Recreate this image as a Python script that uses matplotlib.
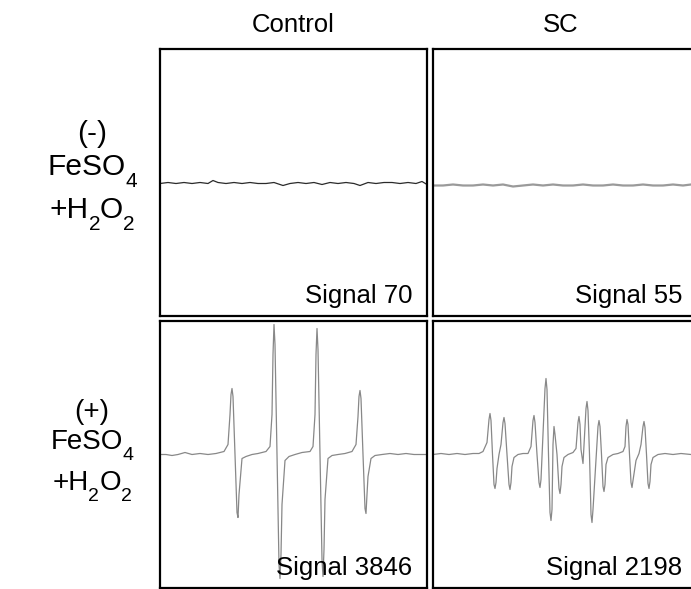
import numpy as np
import matplotlib.pyplot as plt

plt.rcParams['font.family'] = ['Liberation Sans', 'DejaVu Sans']

col_titles = ['Control', 'SC']
row_signs = ['(-)', '(+)']
signals = [[70, 55], [3846, 2198]]

# field position (a.u. across the panel) and EPR amplitude (a.u., 0 = baseline)
ctrl_neg_x = [0, 8, 16, 24, 32, 40, 48, 53, 58, 66, 74, 82, 90, 98, 106, 114, 123, 130,
              138, 146, 154, 162, 170, 178, 186, 194, 200, 208, 216, 224, 232, 240, 248,
              256, 262, 267]
ctrl_neg_y = [-1, 0, -1, 0, -1, 0, -1, 2, 0, -1, 0, -1, 0, -1, -1, 0, -3, -1, 0, -1,
              0, -2, 0, -1, 0, -1, -3, 0, -1, 0, 0, -1, 0, -1, 1, -2]

sc_neg_x = [0, 10, 20, 30, 40, 50, 60, 70, 80, 90, 100, 110, 120, 130, 140, 150, 160,
            170, 180, 190, 200, 210, 220, 230, 240, 250, 258]
sc_neg_y = [-3, -3, -2, -3, -3, -2, -3, -2, -4, -3, -2, -3, -2, -3, -3, -2, -3, -3,
            -2, -3, -3, -2, -3, -3, -2, -3, -2]

ctrl_pos_x = [0, 6, 12, 18, 25, 32, 40, 48, 56, 64, 68, 70, 71, 72, 73, 75, 77, 78, 79,
              82, 86, 92, 98, 106, 110, 112, 113, 114, 115, 117, 119, 120, 121, 122, 125,
              129, 135, 142, 150, 153, 155, 156, 157, 158, 160, 162, 163, 164, 165, 168,
              172, 178, 185, 192, 196, 198, 199, 200, 201, 203, 205, 206, 207, 208, 211,
              215, 222, 230, 238, 246, 254, 262, 267]
ctrl_pos_y = [0, 0, -1, 0, 2, 0, 1, 0, 1, 3, 10, 40, 60, 66, 58, 0, -58, -63, -40, -4,
              -2, 0, 1, 3, 8, 40, 100, 130, 110, 0, -110, -124, -100, -50, -6, -2, 0, 2,
              3, 8, 40, 100, 126, 105, 0, -105, -122, -95, -45, -4, -1, 0, 1, 3, 10, 38,
              58, 64, 56, 0, -54, -59, -40, -22, -4, -1, 0, 1, 0, 1, 0, 0, 0]

sc_pos_x = [0, 8, 16, 24, 32, 40, 46, 50, 54, 56, 57, 58, 59.5, 61, 62, 63, 64, 66, 68,
            70, 71, 72, 74, 76, 77, 78, 79, 81, 85, 90, 95, 98, 100, 101, 102, 104, 106,
            107, 108, 112, 113, 114, 115.5, 117, 118, 119, 120, 121, 122, 124, 126, 127,
            128, 129, 131, 135, 140, 143, 145, 146, 147, 148, 150, 153, 154, 155, 156.5,
            158, 159, 160, 165, 166, 167, 168.5, 170, 171, 172, 173, 175, 180, 185, 190,
            192, 193, 194, 195, 196.5, 198, 199, 200, 203, 206, 208, 210, 211, 212,
            213.5, 215, 216, 217, 218, 220, 225, 232, 240, 248, 258]
sc_pos_y = [0, 1, 0, 1, 0, 1, 1, 3, 12, 35, 41, 34, 0, -30, -34, -28, -14, 0, 10, 32,
            37, 31, 0, -30, -35, -28, -12, -3, 0, 1, 1, 8, 34, 39, 32, 0, -28, -33, -25,
            66, 76, 65, 0, -58, -66, -55, 10, 28, 20, 0, -34, -39, -30, -12, -3, 0, 2, 6,
            32, 38, 30, 5, -9, 46, 53, 44, 0, -60, -68, -55, 28, 34, 28, 0, -32, -37,
            -30, -10, -3, 0, 1, 3, 8, 28, 35, 30, 0, -28, -33, -26, -6, 1, 10, 28, 33,
            27, 0, -29, -34, -27, -10, -3, 0, 1, 0, 1, 0]

traces = [[(ctrl_neg_x, ctrl_neg_y), (sc_neg_x, sc_neg_y)],
          [(ctrl_pos_x, ctrl_pos_y), (sc_pos_x, sc_pos_y)]]
styles = [[dict(color='#2a2a2a', lw=0.9), dict(color='#9a9a9a', lw=1.6)],
          [dict(color='#888888', lw=0.9), dict(color='#888888', lw=0.9)]]

W, H = 691, 589
fig = plt.figure(figsize=(W / 100, H / 100), dpi=100)
renderer = fig.canvas.get_renderer()

lefts = [160, 433]
tops = [49, 321]
size = 267

for r in range(2):
    for c in range(2):
        ax = fig.add_axes([lefts[c] / W, 1 - (tops[r] + size) / H, size / W, size / H])
        x, y = traces[r][c]
        ax.plot(x, y, **styles[r][c])
        ax.set_xlim(0, size)
        ax.set_ylim(-size / 2, size / 2)
        ax.set_xticks([])
        ax.set_yticks([])
        for sp in ax.spines.values():
            sp.set_linewidth(1.6)
            sp.set_color('black')
        tx = 0.944 if c == 0 else 0.933
        ax.text(tx, 13 / size, f'Signal {signals[r][c]}', transform=ax.transAxes,
                ha='right', va='baseline', fontsize=18.5)
        if r == 0:
            cx = 0.5 if c == 0 else 0.479
            ax.text(cx, 1 + 24 / size, col_titles[c], transform=ax.transAxes,
                    ha='center', va='center', fontsize=18.5)


def chem_text(cx, base_y, parts, fs):
    """Draw text made of (string, is_subscript) parts, centred at cx (pixels)."""
    sub_fs = fs * 0.7
    drop = fs * 0.40 * 100 / 72
    items = []
    for s, sub in parts:
        t = fig.text(0, 0, s, fontsize=sub_fs if sub else fs, va='baseline', ha='left')
        w = t.get_window_extent(renderer).width
        items.append((t, w, sub))
    total = sum(w for _, w, _ in items)
    x = cx - total / 2
    for t, w, sub in items:
        y = base_y + (drop if sub else 0)
        t.set_position((x / W, 1 - y / H))
        x += w


label_rows = [
    (row_signs[0], [142, 175, 218], 21.5),
    (row_signs[1], [419, 449, 490], 20),
]
for sign, ys, fs in label_rows:
    chem_text(92, ys[0], [(sign, False)], fs)
    chem_text(92, ys[1], [('FeSO', False), ('4', True)], fs)
    chem_text(92, ys[2], [('+H', False), ('2', True), ('O', False), ('2', True)], fs)

fig.savefig('out.png', dpi=100)
